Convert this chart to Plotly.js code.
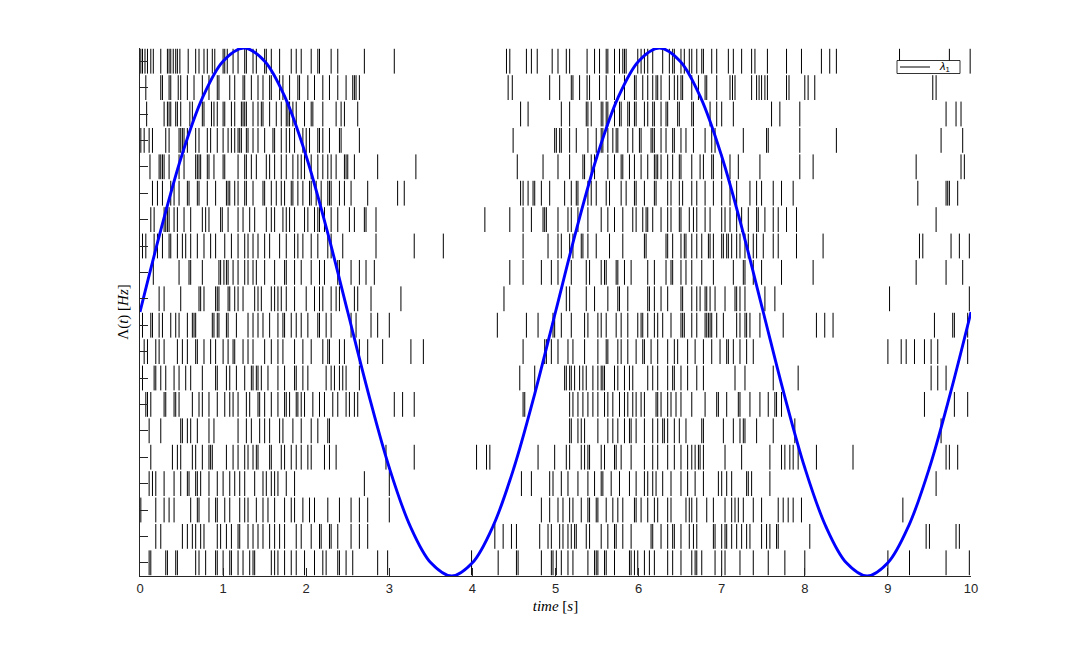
<!DOCTYPE html>
<html><head><meta charset="utf-8">
<script src="https://cdn.plot.ly/plotly-3.0.1.min.js"></script>
<style>html,body{margin:0;padding:0;background:#fff}#chart{width:1074px;height:648px}</style>
</head><body><div id="chart"></div>
<script>
// Spike times (s) for each trial, trial 1 = top row
const trial1 = [0.01,0.03,0.06,0.09,0.13,0.16,0.25,0.33,0.35,0.37,0.40,0.43,0.45,0.48,0.58,0.67,0.71,0.77,0.81,0.87,0.90,1.00,1.02,1.05,1.12,1.18,1.26,1.28,1.36,1.40,1.50,1.52,1.58,1.68,1.82,1.88,1.94,2.06,2.14,2.16,2.30,2.38,2.70,3.06,4.41,4.45,4.65,4.71,4.78,4.96,5.03,5.13,5.17,5.38,5.47,5.53,5.61,5.63,5.71,5.77,5.81,5.83,5.85,5.99,6.03,6.07,6.11,6.17,6.29,6.37,6.41,6.43,6.51,6.55,6.61,6.64,6.70,6.76,6.78,6.88,6.94,7.08,7.14,7.24,7.36,7.40,7.55,7.78,7.96,8.20,8.30,8.38,9.14,9.74,9.99];
const trial2 = [0.07,0.25,0.27,0.35,0.37,0.46,0.49,0.57,0.65,0.75,0.83,0.93,0.95,1.08,1.14,1.24,1.26,1.34,1.42,1.48,1.56,1.58,1.68,1.72,1.80,1.90,1.92,2.02,2.10,2.20,2.28,2.38,2.48,2.56,2.58,2.60,2.64,4.43,4.48,4.93,5.05,5.19,5.21,5.29,5.38,5.41,5.53,5.61,5.71,5.83,5.95,5.97,6.05,6.11,6.17,6.21,6.23,6.27,6.37,6.43,6.47,6.51,6.53,6.64,6.72,6.80,6.82,6.94,7.10,7.13,7.16,7.36,7.42,7.45,7.48,7.52,7.55,7.78,7.81,8.00,8.04,8.12,9.54,9.58];
const trial3 = [0.08,0.29,0.33,0.35,0.37,0.43,0.45,0.49,0.60,0.63,0.75,0.77,0.86,0.89,0.93,1.00,1.02,1.10,1.14,1.22,1.24,1.26,1.28,1.36,1.42,1.46,1.48,1.56,1.64,1.70,1.76,1.78,1.80,1.84,1.88,1.98,2.06,2.08,2.20,2.36,2.42,2.46,2.62,4.58,4.67,5.07,5.17,5.37,5.39,5.43,5.55,5.57,5.61,5.63,5.71,5.77,5.79,5.87,5.89,5.95,5.97,6.07,6.11,6.17,6.19,6.27,6.33,6.35,6.47,6.49,6.64,6.66,6.86,6.94,7.00,7.14,7.60,7.70,7.94,9.70,9.82,9.88];
const trial4 = [0.01,0.05,0.11,0.15,0.31,0.35,0.47,0.49,0.51,0.53,0.57,0.67,0.71,0.81,0.85,0.93,1.00,1.06,1.10,1.14,1.18,1.20,1.22,1.28,1.30,1.36,1.42,1.50,1.60,1.62,1.70,1.76,1.80,1.86,1.96,2.00,2.04,2.14,2.16,2.20,2.28,2.40,2.42,2.64,4.49,4.99,5.01,5.05,5.07,5.17,5.25,5.39,5.49,5.55,5.57,5.63,5.69,5.73,5.75,5.87,5.93,6.01,6.03,6.15,6.17,6.19,6.27,6.33,6.41,6.43,6.51,6.57,6.66,6.80,6.88,6.92,7.26,7.54,7.56,7.94,8.38,9.64,9.90];
const trial5 = [0.12,0.23,0.25,0.27,0.29,0.35,0.47,0.53,0.67,0.69,0.71,0.73,0.81,0.83,0.89,1.00,1.02,1.18,1.26,1.28,1.34,1.40,1.52,1.56,1.62,1.70,1.76,1.84,1.90,1.94,1.98,2.06,2.14,2.20,2.26,2.30,2.36,2.46,2.48,2.50,2.58,2.86,3.32,4.54,4.85,5.03,5.17,5.33,5.35,5.43,5.47,5.63,5.71,5.79,5.81,5.89,5.95,6.03,6.11,6.19,6.21,6.23,6.27,6.35,6.41,6.49,6.51,6.64,6.74,6.78,6.88,6.90,7.00,7.10,7.20,7.46,7.94,8.10,9.34,9.88,9.92];
const trial6 = [0.15,0.21,0.27,0.37,0.41,0.47,0.57,0.59,0.69,0.71,0.81,0.91,1.04,1.06,1.08,1.14,1.18,1.26,1.28,1.36,1.48,1.50,1.58,1.64,1.70,1.74,1.82,1.84,1.90,1.96,2.04,2.06,2.12,2.18,2.26,2.28,2.30,2.40,2.46,2.54,2.74,3.10,3.18,4.58,4.61,4.67,4.73,4.75,4.83,4.93,5.11,5.19,5.25,5.27,5.39,5.43,5.49,5.61,5.65,5.79,5.85,5.95,5.97,6.07,6.19,6.21,6.35,6.39,6.49,6.53,6.64,6.70,6.80,6.90,7.00,7.10,7.18,7.34,7.42,7.48,7.62,7.72,7.86,9.36,9.70,9.72,9.74,9.84];
const trial7 = [0.13,0.17,0.29,0.31,0.33,0.35,0.41,0.45,0.53,0.61,0.75,0.79,0.83,0.97,0.99,1.06,1.18,1.24,1.32,1.38,1.52,1.58,1.62,1.72,1.76,1.80,1.86,1.98,2.02,2.10,2.14,2.16,2.22,2.30,2.38,2.52,2.58,2.70,2.72,2.84,4.15,4.45,4.61,4.71,4.85,4.87,4.89,5.03,5.15,5.19,5.27,5.39,5.55,5.63,5.71,5.81,5.93,5.97,6.05,6.09,6.11,6.17,6.27,6.35,6.39,6.49,6.51,6.61,6.66,6.70,6.80,6.86,7.00,7.04,7.10,7.18,7.24,7.32,7.42,7.44,7.52,7.62,7.68,7.78,7.90,9.58];
const trial8 = [0.03,0.07,0.17,0.21,0.27,0.35,0.37,0.45,0.51,0.55,0.61,0.69,0.77,0.85,0.91,1.02,1.10,1.18,1.26,1.30,1.36,1.42,1.50,1.56,1.68,1.76,1.86,1.90,1.96,2.06,2.14,2.26,2.30,2.44,2.84,3.30,3.65,4.61,4.91,5.03,5.07,5.17,5.21,5.31,5.33,5.39,5.49,5.65,5.81,6.07,6.09,6.33,6.35,6.41,6.51,6.55,6.57,6.64,6.70,6.76,6.84,6.86,6.90,7.00,7.02,7.06,7.08,7.12,7.18,7.22,7.28,7.32,7.38,7.42,7.50,7.62,7.68,7.90,8.22,9.38,9.42,9.76,9.86,9.98];
const trial9 = [0.16,0.47,0.59,0.61,0.75,0.95,0.97,1.01,1.04,1.06,1.12,1.18,1.26,1.30,1.36,1.40,1.50,1.62,1.74,1.76,1.86,1.94,2.06,2.16,2.22,2.38,2.40,2.54,2.64,2.72,2.82,4.45,4.61,4.83,4.95,5.03,5.19,5.37,5.41,5.55,5.59,5.61,5.73,5.75,5.83,5.91,6.11,6.19,6.33,6.39,6.41,6.51,6.57,6.64,6.76,6.90,7.14,7.26,7.28,7.38,7.48,7.72,8.10,9.34,9.70,9.90];
const trial10 = [0.23,0.29,0.49,0.71,0.73,0.77,0.91,0.93,0.95,1.06,1.08,1.14,1.18,1.24,1.38,1.42,1.46,1.58,1.62,1.66,1.70,1.76,1.86,2.00,2.10,2.16,2.20,2.30,2.36,2.40,2.58,2.62,2.78,3.14,4.38,5.13,5.17,5.37,5.47,5.63,5.75,5.77,5.87,6.11,6.13,6.19,6.27,6.35,6.51,6.53,6.64,6.70,6.74,6.80,6.82,6.86,6.92,7.04,7.16,7.18,7.22,7.28,7.52,7.64,9.02,9.98];
const trial11 = [0.03,0.13,0.15,0.23,0.27,0.37,0.43,0.47,0.57,0.63,0.65,0.67,0.87,0.89,0.93,0.95,1.04,1.06,1.16,1.30,1.36,1.42,1.48,1.56,1.66,1.72,1.74,1.82,1.88,1.94,2.02,2.14,2.16,2.24,2.30,2.54,2.60,2.78,2.86,3.00,4.30,4.65,4.79,4.97,4.99,5.07,5.19,5.35,5.39,5.51,5.55,5.61,5.73,5.79,5.87,5.99,6.03,6.05,6.11,6.19,6.23,6.29,6.39,6.51,6.53,6.55,6.64,6.70,6.80,6.82,6.84,6.86,6.88,6.94,7.02,7.18,7.22,7.28,7.30,7.34,7.46,7.74,8.14,8.24,8.34,9.56,9.78,9.80,9.96];
const trial12 = [0.05,0.09,0.19,0.23,0.29,0.45,0.51,0.57,0.67,0.69,0.77,0.85,0.91,1.00,1.06,1.12,1.14,1.24,1.30,1.36,1.50,1.58,1.66,1.72,1.86,1.96,2.06,2.20,2.26,2.28,2.40,2.46,2.64,2.74,2.92,3.26,3.41,4.61,4.87,4.89,4.95,5.03,5.15,5.21,5.35,5.51,5.61,5.63,5.75,5.79,5.87,5.97,6.05,6.07,6.15,6.23,6.35,6.43,6.47,6.59,6.68,6.78,6.88,6.98,7.06,7.08,7.14,7.22,7.30,7.38,9.00,9.16,9.22,9.32,9.44,9.52,9.60,9.96];
const trial13 = [0.03,0.17,0.19,0.25,0.31,0.41,0.47,0.55,0.61,0.75,0.91,0.93,1.04,1.08,1.16,1.26,1.34,1.36,1.40,1.42,1.46,1.54,1.66,1.74,1.86,1.88,1.96,2.02,2.24,2.30,2.34,2.40,2.44,2.48,2.64,4.57,4.75,5.11,5.13,5.17,5.19,5.23,5.29,5.33,5.37,5.45,5.51,5.55,5.57,5.59,5.71,5.75,5.83,5.89,5.93,6.11,6.17,6.23,6.35,6.41,6.43,6.51,6.59,6.70,6.78,7.16,7.28,7.62,7.92,9.52,9.60,9.70];
const trial14 = [0.07,0.09,0.13,0.29,0.31,0.41,0.43,0.47,0.63,0.71,0.75,0.83,0.93,1.02,1.08,1.12,1.18,1.28,1.32,1.42,1.44,1.50,1.58,1.66,1.74,1.76,1.80,1.88,1.90,1.94,1.98,2.08,2.16,2.22,2.32,2.38,2.48,2.52,2.58,2.62,3.06,3.16,3.30,4.61,4.63,5.17,5.21,5.27,5.33,5.39,5.45,5.51,5.59,5.63,5.69,5.77,5.83,5.87,5.93,5.97,6.03,6.07,6.21,6.23,6.27,6.35,6.39,6.45,6.51,6.64,6.80,6.94,6.96,7.06,7.20,7.22,7.34,7.46,7.56,7.64,7.66,7.72,9.44,9.80,9.96];
const trial15 = [0.11,0.25,0.49,0.51,0.57,0.61,0.69,0.83,0.89,1.18,1.28,1.34,1.44,1.50,1.56,1.68,1.72,1.84,1.94,2.06,2.14,2.26,2.28,5.17,5.19,5.27,5.31,5.35,5.51,5.63,5.69,5.75,5.83,5.89,5.91,5.97,6.07,6.17,6.23,6.29,6.31,6.35,6.43,6.49,6.57,6.76,6.78,7.02,7.14,7.22,7.26,7.28,7.42,7.62,7.88,9.64];
const trial16 = [0.13,0.39,0.45,0.49,0.63,0.67,0.75,0.83,0.85,0.87,1.04,1.12,1.18,1.26,1.30,1.36,1.40,1.42,1.56,1.58,1.70,1.74,1.82,1.88,1.94,2.02,2.06,2.22,2.28,2.36,2.96,3.30,4.05,4.17,4.21,4.79,4.99,5.13,5.17,5.31,5.35,5.39,5.41,5.55,5.59,5.71,5.73,5.79,5.91,6.07,6.17,6.23,6.35,6.43,6.51,6.59,6.64,6.68,6.72,6.74,6.78,7.04,7.24,7.58,7.72,7.76,7.82,7.86,7.92,8.14,8.58,9.70,9.74,9.84];
const trial17 = [0.11,0.15,0.19,0.29,0.41,0.49,0.57,0.59,0.67,0.69,0.73,0.83,0.93,1.00,1.08,1.14,1.20,1.26,1.38,1.48,1.52,1.58,1.62,1.66,1.76,1.86,2.70,3.00,4.59,4.71,4.93,4.97,5.07,5.15,5.27,5.39,5.47,5.55,5.57,5.67,5.77,5.89,5.97,6.07,6.11,6.17,6.21,6.29,6.39,6.51,6.59,6.68,6.78,6.96,7.00,7.06,7.12,7.30,7.32,7.36,7.58,9.58];
const trial18 = [0.01,0.19,0.29,0.35,0.41,0.61,0.69,0.71,0.83,0.91,0.93,1.02,1.08,1.20,1.26,1.30,1.40,1.48,1.54,1.62,1.74,1.82,1.86,1.96,2.04,2.10,2.26,2.40,2.54,2.64,2.74,3.00,4.83,4.93,5.03,5.09,5.17,5.21,5.31,5.39,5.41,5.49,5.51,5.61,5.69,5.75,5.81,5.95,5.97,6.03,6.11,6.19,6.23,6.35,6.39,6.57,6.61,6.64,6.70,6.82,6.90,7.04,7.12,7.16,7.20,7.26,7.38,7.48,7.68,7.74,7.80,7.86,7.96,9.18];
const trial19 = [0.19,0.25,0.51,0.57,0.63,0.67,0.73,0.77,0.93,0.97,1.04,1.10,1.18,1.20,1.30,1.36,1.42,1.48,1.56,1.62,1.68,1.74,1.88,1.94,2.06,2.16,2.18,2.28,2.30,2.38,2.54,2.64,2.74,4.27,4.37,4.47,4.53,4.81,4.91,4.95,5.05,5.09,5.15,5.19,5.23,5.25,5.37,5.41,5.55,5.63,5.71,5.73,5.81,5.91,6.15,6.17,6.27,6.35,6.41,6.43,6.51,6.61,6.66,6.70,6.90,6.92,7.00,7.04,7.06,7.12,7.18,7.24,7.30,7.34,7.48,7.54,7.58,7.66,7.68,8.06,9.46,9.50,9.82,9.86];
const trial20 = [0.11,0.13,0.31,0.33,0.43,0.45,0.67,0.71,0.79,0.91,0.93,1.00,1.08,1.10,1.18,1.24,1.32,1.36,1.38,1.58,1.62,1.66,1.74,1.82,1.88,1.98,2.10,2.20,2.24,2.38,2.40,2.48,2.56,2.86,2.98,3.99,4.31,4.53,4.55,4.83,4.95,4.97,5.01,5.07,5.15,5.21,5.39,5.47,5.49,5.51,5.59,5.61,5.71,5.89,5.91,5.95,5.99,6.07,6.13,6.19,6.35,6.41,6.51,6.64,6.68,6.70,6.76,6.92,7.00,7.04,7.22,7.38,7.56,7.76,8.00,9.00,9.26,9.70,9.98];
const trials = [trial1,trial2,trial3,trial4,trial5,trial6,trial7,trial8,trial9,trial10,
                trial11,trial12,trial13,trial14,trial15,trial16,trial17,trial18,trial19,trial20];

// Rate curve Λ(t)
const rateTime = [0,0.25,0.5,0.75,1,1.25,1.5,1.75,2,2.25,2.5,2.75,3,3.25,3.5,3.75,4,4.25,4.5,4.75,5,
                  5.25,5.5,5.75,6,6.25,6.5,6.75,7,7.25,7.5,7.75,8,8.25,8.5,8.75,9,9.25,9.5,9.75,10];
const rateHz = [10,13.1,15.9,18.1,19.5,20,19.5,18.1,15.9,13.1,10,6.9,4.1,1.9,0.5,0,0.5,1.9,4.1,6.9,10,
                13.1,15.9,18.1,19.5,20,19.5,18.1,15.9,13.1,10,6.9,4.1,1.9,0.5,0,0.5,1.9,4.1,6.9,10];

const xTickVals = [0,1,2,3,4,5,6,7,8,9,10];
const xTickText = ['0','1','2','3','4','5','6','7','8','9','10'];
const rowTicks = trials.map((_, i) => i + 1);
const legendLabel = '<i>λ</i><sub>1</sub>';

const sx = [], sy = [];
trials.forEach((tr, i) => {
  const r = i + 1;
  tr.forEach(t => { sx.push(t, t, null); sy.push(r - 0.47, r + 0.47, null); });
});

const axisCol = '#262626';
const data = [
  {type:'scatter', mode:'lines', x:sx, y:sy, connectgaps:false,
   line:{color:'#000000', width:1}, name:legendLabel, showlegend:false, hoverinfo:'skip'},
  {type:'scatter', mode:'lines', x:rateTime, y:rateHz, yaxis:'y2',
   line:{color:'#0000ff', width:2.9, shape:'spline', smoothing:1}, showlegend:false, hoverinfo:'skip'}
];

// legend box drawn in paper coordinates (plot area 140..971 x 48..576 px)
const px = v => (v - 140) / 831;
const py = v => 1 - (v - 48) / 528;

const layout = {
  width:1074, height:648,
  margin:{l:140, r:103, t:48, b:72},
  paper_bgcolor:'#ffffff', plot_bgcolor:'#ffffff',
  showlegend:false,
  xaxis:{range:[0,10], tickvals:xTickVals, ticktext:xTickText, ticks:'inside', ticklen:8, tickcolor:axisCol,
         showline:true, linecolor:axisCol, linewidth:1, showgrid:false, zeroline:false,
         tickfont:{family:'Liberation Sans, Arial, sans-serif', size:13, color:axisCol},
         title:{text:'<i>time</i> [<i>s</i>]', font:{family:'Liberation Serif, serif', size:15, color:'#000'}, standoff:5}},
  yaxis:{range:[20.5,0.5], tickvals:rowTicks, showticklabels:false, ticks:'inside', ticklen:8, tickcolor:axisCol,
         showline:true, linecolor:axisCol, linewidth:1, showgrid:false, zeroline:false,
         title:{text:'Λ(<i>t</i>) [<i>Hz</i>]', font:{family:'Liberation Serif, serif', size:15, color:'#000'}, standoff:6}},
  yaxis2:{overlaying:'y', range:[0,20], visible:false, showgrid:false, zeroline:false},
  shapes:[
    {type:'rect', xref:'paper', yref:'paper', x0:px(897), x1:px(960), y0:py(73.5), y1:py(60.5),
     fillcolor:'#ffffff', line:{color:'#000000', width:0.8}, layer:'above'},
    {type:'line', xref:'paper', yref:'paper', x0:px(900), x1:px(930), y0:py(67), y1:py(67),
     line:{color:'#000000', width:1}, layer:'above'}
  ],
  annotations:[
    {xref:'paper', yref:'paper', x:px(944), y:py(67), xanchor:'center', yanchor:'middle', showarrow:false,
     text:legendLabel, font:{family:'Liberation Sans, Arial, sans-serif', size:11, color:'#000'}}
  ]
};

Plotly.newPlot('chart', data, layout, {displayModeBar:false, staticPlot:true});
</script>
</body></html>
